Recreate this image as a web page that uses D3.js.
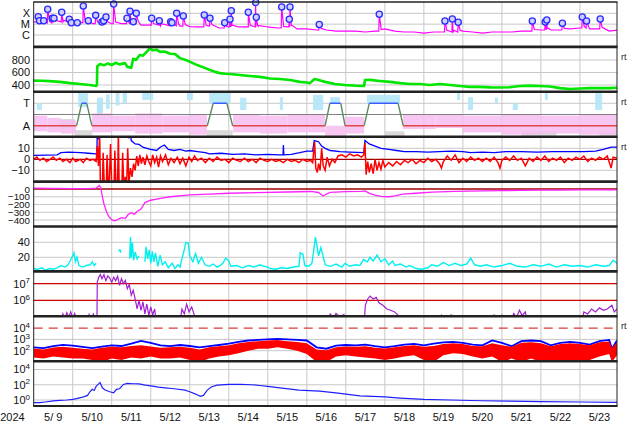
<!DOCTYPE html>
<html><head><meta charset="utf-8">
<script src="https://cdn.jsdelivr.net/npm/d3@7"></script>
<style>
body{margin:0;background:#fff}
svg{display:block;font-family:"Liberation Sans",Arial,sans-serif}
</style></head><body>
<svg id="c" width="634" height="424"></svg>
<script>
// ---------------- DATA (days since 2024-05-09 00:00 UT) ----------------
const yearLabel = "2024";
const dayLabels = ["5/ 9","5/10","5/11","5/12","5/13","5/14","5/15","5/16","5/17","5/18","5/19","5/20","5/21","5/22","5/23"];
const rtPanels = [1,2,3,7];

// X-ray background (units of 1e-6 W/m2, C=1, M=10, X=100), every 0.25 day
const xrayStep = 0.25;
const xrayBase = [16,13,16,16,11,13,11,11,11,11,13,8,8,7,7,6.5,6,5.5,6.5,4.4,5.5,5.5,5.5,6.5,5.5,4.4,5.5,3.6,3.6,2.9,2.9,2.3,2.3,2.3,1.9,2.3,3.6,2.3,1.9,1.9,1.5,1.9,1.9,1.9,2.3,1.9,1.5,1.9,1.9,1.9,2.3,2.3,2.9,2.9,2.9,3.6,4.4,3.6,3.6,2.3,2.9];
// flares [day, peak]
const flares = [[0.118,48.6],[0.149,20.8],[0.256,20.8],[0.359,234],[0.477,34.6],[0.520,34.6],[0.718,124],[0.912,28],[0.964,13.6],[1.117,13.6],[1.271,471],[1.399,20.8],[1.589,65],[1.750,15.8],[1.794,20.8],[1.853,45.6],[2.050,720],[2.391,34.6],[2.468,153],[2.553,16.8],[2.629,100],[3.024,34.6],[3.219,20.8],[3.511,16.8],[3.544,13.6],[3.665,100],[3.834,56],[4.372,70],[4.518,34.6],[4.895,13.6],[5.031,28],[5.064,174],[5.500,124],[5.689,1000],[5.705,42.8],[6.356,381],[6.551,28],[6.569,381],[7.319,9.3],[8.857,81],[10.54,19.5],[10.73,29.8],[10.88,14.8],[12.78,19.5],[13.11,15.8],[13.15,24],[13.55,12],[14.06,45.6],[14.17,19.5],[14.52,29.8]];

// solar wind speed km/s
const windSpeed = [[0,470],[0.2,468],[0.4,462],[0.67,450],[0.93,430],[1.19,415],[1.44,400],[1.6,385],[1.62,400],[1.63,700],[1.7,735],[1.8,715],[1.9,745],[2.0,720],[2.1,755],[2.2,730],[2.34,750],[2.4,690],[2.5,675],[2.55,820],[2.62,800],[2.72,880],[2.8,870],[2.9,935],[2.98,985],[3.05,955],[3.15,965],[3.24,930],[3.35,935],[3.5,900],[3.62,895],[3.75,830],[3.9,800],[4.01,770],[4.15,730],[4.27,700],[4.4,670],[4.52,640],[4.65,610],[4.77,590],[4.9,580],[5.03,575],[5.29,560],[5.54,545],[5.8,530],[6.06,505],[6.31,495],[6.57,480],[6.82,450],[7.0,440],[7.08,430],[7.15,470],[7.2,495],[7.3,480],[7.47,450],[7.72,415],[7.98,400],[8.24,390],[8.47,385],[8.49,480],[8.62,482],[8.87,465],[9.13,450],[9.39,430],[9.64,415],[9.9,415],[10.15,400],[10.41,415],[10.67,400],[10.92,385],[11.18,370],[11.44,370],[11.7,362],[11.95,360],[12.2,365],[12.46,385],[12.72,390],[12.97,385],[13.23,375],[13.49,350],[13.74,335],[14.0,345],[14.25,350],[14.51,350],[14.77,350],[14.95,355]];

// IMF sector (T=+1, A=-1)
const sector = [[0,-1],[1.10,-1],[1.23,1],[1.36,1],[1.49,-1],[4.45,-1],[4.60,1],[4.95,1],[5.10,-1],[7.47,-1],[7.59,1],[7.87,1],[7.98,-1],[8.47,-1],[8.60,1],[9.34,1],[9.47,-1],[14.95,-1]];
// scatter clouds [dayStart, dayEnd, low, high]
const awayCloud = [[0,0.35,-1.5,-0.1],[0.35,0.7,-1.6,-0.3],[0.7,1.08,-1.7,-0.5],[1.49,2.0,-1.6,0.1],[2.0,2.6,-1.5,-0.1],[2.6,3.3,-1.7,0.1],[3.3,4.0,-1.6,-0.1],[4.0,4.44,-1.8,0.0],[5.11,5.8,-1.6,0.0],[5.8,6.5,-1.7,-0.1],[6.5,7.47,-1.6,0.0],[7.47,7.98,-1.9,-1.0],[7.98,8.47,-1.7,-0.2],[9.46,10.3,-1.3,0.0],[10.3,11.0,-1.2,0.0],[11.0,12.0,-1.6,-0.1],[12.0,13.0,-1.8,0.0],[13.0,14.0,-1.7,-0.1],[14.0,14.95,-1.8,0.0]];
const towardCloud = [[0.08,0.21,0.4,1.0],[1.14,1.39,0.67,1.9],[1.62,1.78,0.13,1.5],[1.85,1.95,0.5,1.8],[2.1,2.2,0.8,2.0],[2.28,2.39,1.0,2.0],[2.78,3.06,1.3,2.0],[3.93,4.08,1.3,2.0],[4.5,5.05,1.0,1.95],[5.29,5.45,0.4,1.5],[6.31,6.39,0.4,1.55],[7.16,7.42,0.4,1.75],[7.6,7.85,1.0,1.55],[8.54,9.39,1.0,1.75],[10.85,10.93,1.3,1.9],[11.13,11.26,0.4,1.55],[11.82,11.9,1.0,1.5],[12.28,12.41,0.4,1.0],[13.1,13.18,1.3,1.9],[14.39,14.57,0.4,1.9]];
const greyCloud = [[0.68,1.05,-1.3,-0.4],[1.05,1.5,-1.95,-1.4],[1.62,1.75,0.0,1.2],[4.44,5.1,-1.95,-1.4],[9.0,9.5,-1.95,-1.5],[12.5,13.4,-1.95,-1.5],[14.5,14.95,-1.95,-1.5]];

// IMF Bt and Bz (nT)
const imfBt = [[0,3.5],[0.3,3.8],[0.6,4],[0.7,6],[0.9,6.5],[1.2,6],[1.4,5.5],[1.6,5],[1.62,5],[1.63,30],[1.66,18],[1.68,30],[2.4,30],[2.44,19],[2.47,30],[2.5,17],[2.6,14],[2.7,13.5],[2.8,11],[2.9,10],[3.0,9],[3.15,8],[3.24,11],[3.35,13],[3.45,9],[3.6,8],[3.75,9],[3.9,7.5],[4.0,8],[4.2,7],[4.4,6],[4.5,5],[4.8,5.5],[5.1,4.5],[5.4,5],[5.7,4],[6.0,4.5],[6.3,4],[6.39,4],[6.4,13],[6.41,4],[6.6,4.5],[6.82,6],[7.0,7.5],[7.15,7.5],[7.19,17],[7.3,16],[7.38,12],[7.47,10],[7.6,8],[7.85,7],[8.1,6.5],[8.46,6],[8.49,17],[8.6,14],[8.75,12],[8.9,10],[9.1,9],[9.3,8],[9.5,7],[9.8,7],[10.1,6.5],[10.4,7],[10.7,7.5],[11.0,7],[11.2,6],[11.5,6.5],[11.8,6],[12.1,7],[12.5,7],[12.9,6.5],[13.3,7],[13.7,7],[14.1,7],[14.4,7.5],[14.6,9],[14.8,11],[14.95,11]];
const imfBz = [[0,0],[0.08,2],[0.16,-1],[0.25,1],[0.33,-2],[0.42,0],[0.5,2],[0.58,-1],[0.67,1],[0.75,-2],[0.83,0],[0.93,-3],[1.0,1],[1.08,-2],[1.19,0],[1.27,-3],[1.35,1],[1.44,-1],[1.52,0],[1.6,-2],[1.63,12],[1.66,-6],[1.69,25],[1.71,-25],[1.76,-25],[1.78,6],[1.81,-25],[1.86,-25],[1.88,4],[1.91,-25],[1.94,-18],[1.97,14],[2.0,-25],[2.06,-25],[2.08,8],[2.11,-25],[2.15,-20],[2.17,25],[2.19,-25],[2.26,-25],[2.28,6],[2.31,-25],[2.35,-16],[2.38,-25],[2.41,10],[2.44,-22],[2.48,-8],[2.52,-16],[2.56,-4],[2.6,-10],[2.64,3],[2.68,-6],[2.72,4],[2.76,-4],[2.8,2],[2.85,-5],[2.9,3],[2.95,-2],[3.0,-6],[3.05,4],[3.1,-3],[3.15,2],[3.2,-7],[3.25,3],[3.3,-2],[3.38,4],[3.45,-5],[3.52,1],[3.6,-3],[3.68,2],[3.75,-4],[3.82,1],[3.9,-6],[3.98,2],[4.05,-2],[4.12,3],[4.2,-1],[4.3,1],[4.4,-3],[4.5,1],[4.6,-2],[4.7,2],[4.8,-1],[4.9,0],[5.0,-3],[5.1,1],[5.2,-1],[5.3,-2],[5.4,1],[5.5,-2],[5.6,0],[5.7,-3],[5.8,1],[5.9,-1],[6.0,-2],[6.1,0],[6.2,-2],[6.3,-1],[6.4,-3],[6.5,0],[6.6,-2],[6.7,-1],[6.8,-3],[6.9,0],[7.0,-2],[7.1,-1],[7.15,-3],[7.2,16],[7.23,-8],[7.27,-12],[7.3,-4],[7.34,-10],[7.38,10],[7.42,-6],[7.47,-10],[7.52,2],[7.58,-6],[7.65,0],[7.72,-3],[7.8,3],[7.9,4],[8.0,2],[8.1,5],[8.2,3],[8.3,4],[8.4,2],[8.46,4],[8.49,15],[8.52,-14],[8.56,-2],[8.6,-12],[8.65,-4],[8.7,-13],[8.75,0],[8.8,-10],[8.85,-3],[8.9,-9],[8.95,-1],[9.0,-7],[9.1,-3],[9.2,-6],[9.3,-2],[9.4,-5],[9.5,-1],[9.6,-3],[9.7,0],[9.8,-4],[9.9,-1],[10.0,-3],[10.1,1],[10.2,-2],[10.3,0],[10.4,-4],[10.45,-8],[10.5,-2],[10.6,3],[10.7,-1],[10.8,4],[10.9,-3],[11.0,1],[11.1,-2],[11.2,2],[11.3,-1],[11.4,1],[11.5,-2],[11.6,1],[11.7,-2],[11.8,2],[11.9,-3],[11.95,-8],[12.0,-1],[12.1,2],[12.2,-1],[12.3,3],[12.4,-1],[12.5,1],[12.6,-6],[12.7,1],[12.8,-2],[12.9,2],[13.0,-1],[13.1,3],[13.2,-2],[13.3,1],[13.4,-1],[13.5,2],[13.6,-3],[13.7,1],[13.8,-1],[13.9,2],[14.0,0],[14.1,3],[14.2,-2],[14.3,1],[14.4,-1],[14.5,2],[14.6,0],[14.7,3],[14.8,-8],[14.85,2],[14.95,1]];

// Dst (nT)
const dst = [[0,10],[0.5,8],[1.0,5],[1.4,5],[1.6,10],[1.68,45],[1.72,20],[1.76,-100],[1.8,-190],[1.87,-300],[1.93,-360],[2.0,-395],[2.08,-410],[2.15,-395],[2.25,-370],[2.35,-378],[2.42,-330],[2.5,-305],[2.58,-325],[2.65,-290],[2.75,-260],[2.85,-175],[3.0,-145],[3.25,-120],[3.5,-100],[4.0,-77],[4.5,-65],[5.0,-55],[5.7,-48],[6.5,-39],[7.1,-32],[7.3,-45],[7.42,-90],[7.5,-65],[7.6,-43],[8.0,-35],[8.4,-30],[8.49,-24],[8.62,-60],[8.75,-80],[8.9,-95],[9.1,-100],[9.26,-88],[9.45,-65],[9.8,-55],[10.2,-40],[10.8,-30],[11.5,-25],[12,-20],[12.5,-18],[13,-15],[13.5,-14],[14,-12],[14.5,-10],[14.95,-10]];

// solar wind density
const density = [[0,5],[0.1,4],[0.2,6],[0.3,3],[0.4,5],[0.5,4],[0.6,6],[0.7,9],[0.8,7],[0.88,10],[0.95,17],[1.0,22],[1.03,26],[1.07,14],[1.11,20],[1.16,9],[1.25,7],[1.35,9],[1.45,10],[1.5,14],[1.55,9],[1.6,12],[1.62,null],[2.18,28],[2.21,30],[2.24,26],[2.26,null],[2.46,18],[2.48,47],[2.5,20],[2.53,40],[2.56,16],[2.6,27],[2.65,18],[2.7,22],[2.72,null],[2.85,14],[2.88,34],[2.92,18],[2.96,30],[3.0,12],[3.04,28],[3.08,14],[3.12,26],[3.18,8],[3.24,23],[3.3,10],[3.37,14],[3.45,6],[3.55,12],[3.62,5],[3.7,10],[3.75,7],[3.8,18],[3.86,30],[3.9,40],[3.96,39],[4.0,22],[4.08,14],[4.15,25],[4.22,12],[4.3,20],[4.39,10],[4.5,8],[4.6,11],[4.7,7],[4.77,9],[4.85,12],[4.92,19],[5.0,15],[5.05,8],[5.2,9],[5.35,6],[5.5,9],[5.65,7],[5.8,10],[5.9,8],[6.0,7],[6.06,5],[6.2,4],[6.35,6],[6.5,5],[6.65,7],[6.8,8],[6.83,26],[6.9,24],[6.95,9],[7.05,8],[7.13,12],[7.18,30],[7.22,47],[7.26,36],[7.3,22],[7.36,33],[7.42,21],[7.47,10],[7.6,8],[7.75,11],[7.9,7],[7.98,12],[8.1,8],[8.25,10],[8.36,9],[8.45,17],[8.55,14],[8.62,20],[8.7,15],[8.8,23],[8.9,14],[9.0,18],[9.1,10],[9.2,15],[9.26,9],[9.4,11],[9.55,7],[9.64,9],[9.8,5],[9.95,4],[10.1,6],[10.2,10],[10.35,8],[10.5,13],[10.65,9],[10.8,12],[10.95,9],[11.1,11],[11.2,19],[11.3,10],[11.45,8],[11.6,10],[11.8,7],[12.0,9],[12.2,12],[12.4,8],[12.6,7],[12.8,10],[13.0,8],[13.2,11],[13.4,7],[13.6,10],[13.8,8],[14.0,9],[14.2,7],[14.4,10],[14.6,8],[14.75,9],[14.85,16],[14.95,12]];

// proton flux (log panel); 5e4 = below panel
const protonFlux = [[0,5e4],[0.72,5e4],[0.75,1.5e5],[0.8,8e4],[0.85,1.8e5],[0.9,1e5],[0.95,2e5],[1.0,8e4],[1.05,1.6e5],[1.12,5e4],[1.38,5e4],[1.42,1.4e5],[1.48,9e4],[1.53,1.5e5],[1.6,5e4],[1.62,5e4],[1.63,1.3e7],[1.67,2.5e7],[1.71,3.5e7],[1.75,2e7],[1.8,3.5e7],[1.85,1.5e7],[1.9,3e7],[1.95,2.2e7],[2.0,1.2e7],[2.05,2.5e7],[2.1,1.5e7],[2.15,2.8e7],[2.2,8e6],[2.25,2e7],[2.3,1e7],[2.35,1.6e7],[2.4,5e6],[2.45,9e6],[2.5,2e6],[2.55,4e6],[2.6,1.2e6],[2.65,3e5],[2.7,1e6],[2.75,2.5e5],[2.8,8e5],[2.85,1.5e5],[2.9,6e5],[2.95,1.2e5],[3.0,4e5],[3.05,1.3e5],[3.1,3e5],[3.14,5e4],[3.75,5e4],[3.8,3e5],[3.86,1.5e5],[3.92,6e5],[3.98,2e5],[4.05,4e5],[4.12,1.2e5],[4.16,5e4],[7.55,5e4],[7.6,1.5e5],[7.68,9e4],[7.75,1.6e5],[7.85,1e5],[7.95,1.4e5],[8.0,5e4],[8.47,5e4],[8.5,5e5],[8.56,1.2e6],[8.62,1.8e6],[8.7,1.2e6],[8.78,1.5e6],[8.85,7e5],[8.95,5e5],[9.05,3e5],[9.15,2.5e5],[9.25,2e5],[9.35,1.2e5],[9.45,5e4],[10.4,5e4],[10.45,1.3e5],[10.55,8e4],[10.7,1.3e5],[10.85,9e4],[11.0,1.2e5],[11.15,5e4],[11.75,5e4],[11.8,1.3e5],[11.9,9e4],[12.0,1.3e5],[12.12,5e4],[12.25,5e4],[12.3,1.6e5],[12.38,1e5],[12.45,2.5e5],[12.52,1.2e5],[12.6,2e5],[12.65,5e4],[12.88,5e4],[12.92,1.3e5],[12.97,5e4],[14.05,5e4],[14.1,2e5],[14.2,1.5e5],[14.3,3e5],[14.4,2e5],[14.5,3.5e5],[14.6,2.5e5],[14.7,3e5],[14.82,5e5],[14.88,2e5],[14.95,3e5]];

// panel 8: blue line and red band [day, low, high]
const fluxBlue = [[0,200],[0.25,170],[0.5,250],[0.75,330],[1.0,280],[1.25,220],[1.5,170],[1.75,230],[2.0,300],[2.25,260],[2.5,420],[2.75,750],[3.0,500],[3.25,300],[3.5,250],[3.75,320],[4.0,260],[4.25,200],[4.5,250],[4.75,320],[5.0,420],[5.25,600],[5.5,800],[5.75,900],[6.0,1000],[6.25,1100],[6.5,1000],[6.75,900],[7.0,800],[7.25,200],[7.5,150],[7.75,280],[8.0,320],[8.25,300],[8.5,350],[8.75,250],[9.0,200],[9.25,250],[9.5,350],[9.75,400],[10.0,300],[10.25,420],[10.5,550],[10.75,600],[11.0,500],[11.25,350],[11.5,300],[11.75,800],[12.0,500],[12.25,250],[12.5,700],[12.75,800],[13.0,700],[13.25,300],[13.5,500],[13.75,600],[14.0,500],[14.25,350],[14.5,700],[14.75,900],[14.82,150],[14.95,800]];
const fluxRed = [[0,25,160],[0.25,20,130],[0.5,30,190],[0.75,25,220],[1.0,20,180],[1.25,20,150],[1.5,15,130],[1.75,10,180],[2.0,20,220],[2.25,15,200],[2.5,25,260],[2.75,20,300],[3.0,30,240],[3.25,20,180],[3.5,20,200],[3.75,25,220],[4.0,15,180],[4.25,10,130],[4.5,20,200],[4.75,30,250],[5.0,40,300],[5.25,60,450],[5.5,100,600],[5.75,150,700],[6.0,150,800],[6.25,200,900],[6.5,150,700],[6.75,100,600],[7.0,50,450],[7.25,10,130],[7.5,10,110],[7.75,30,200],[8.0,40,230],[8.25,30,220],[8.5,25,250],[8.75,20,180],[9.0,15,160],[9.25,20,200],[9.5,30,260],[9.75,40,300],[10.0,15,220],[10.25,10,260],[10.5,40,400],[10.75,60,450],[11.0,50,400],[11.25,30,260],[11.5,20,250],[11.75,30,450],[12.0,10,300],[12.25,20,220],[12.5,10,500],[12.75,20,550],[13.0,10,450],[13.25,10,250],[13.5,10,400],[13.75,10,450],[14.0,10,400],[14.25,15,300],[14.5,30,550],[14.75,50,650],[14.82,10,180],[14.95,40,550]];

// panel 9 blue
const lowFlux = [[0,0.45],[0.15,0.45],[0.3,0.55],[0.5,0.75],[0.67,0.9],[0.85,1.0],[1.0,1.2],[1.1,1.5],[1.2,2],[1.3,2.8],[1.38,4],[1.44,12],[1.5,25],[1.55,18],[1.6,60],[1.7,200],[1.76,40],[1.83,20],[1.95,12],[2.05,9],[2.12,25],[2.2,30],[2.3,110],[2.4,150],[2.55,135],[2.7,130],[2.86,90],[3.0,70],[3.2,50],[3.37,40],[3.6,30],[3.88,20],[4.0,12],[4.15,6],[4.27,3],[4.35,4],[4.45,20],[4.55,50],[4.7,90],[5.0,110],[5.3,110],[5.6,100],[5.8,80],[6.0,60],[6.31,38],[6.8,20],[7.33,15],[7.8,8],[8.36,3.4],[9.0,2.5],[9.39,1.8],[10.0,1.2],[10.67,1],[11.5,0.8],[12.2,0.7],[13,0.6],[14,0.55],[14.95,0.5]];

// ---------------- DRAWING ----------------
const svg = d3.select("#c");
const defs = svg.append("defs");
const t0 = Date.UTC(2024,4,9), DAY = 864e5;
const L = 33.7, R = 617, TOP0 = 2, PH = 44.9;
const x = d3.scaleUtc().domain([new Date(t0), new Date(t0 + 14.95*DAY)]).range([L, R]);
const X = d => x(new Date(t0 + d*DAY));
const pTop = i => TOP0 + i*PH;

const ys = [
  d3.scaleLog().domain([1,100]).range([35,13.3]),
  d3.scaleLinear().domain([400,800]).range([85,60]),
  d3.scaleLinear().domain([-1,1]).range([125.7,103.3]),
  d3.scaleLinear().domain([-10,10]).range([170.3,148.3]),
  d3.scaleLinear().domain([-400,0]).range([220,189]),
  d3.scaleLinear().domain([0,40]).range([272.3,242.3]),
  d3.scaleLog().domain([1e6,1e7]).range([300.3,283.7]),
  d3.scaleLog().domain([1e2,1e4]).range([350.7,328.1]),
  d3.scaleLog().domain([1,1e4]).range([400,369.5])
];
const grid = [[1,10,100],[400,600,800],[1],[-10,10],[-100,-200,-300,-400],[20,40],[],[1e2,1e3],[1,1e2,1e4]];
const ticks = [
  [[100,"X"],[10,"M"],[1,"C"]],
  [[800,"800"],[600,"600"],[400,"400"]],
  [[1,"T"],[-1,"A"]],
  [[10,"10"],[0,"0"],[-10,"\u221210"]],
  [[0,"0"],[-100,"\u2212100"],[-200,"\u2212200"],[-300,"\u2212300"],[-400,"\u2212400"]],
  [[40,"40"],[20,"20"]],
  [[1e7,"10","7"],[1e6,"10","6"]],
  [[1e4,"10","4"],[1e3,"10","3"],[1e2,"10","2"]],
  [[1e4,"10","4"],[1e2,"10","2"],[1,"10","0"]]
];
const labelSize = [11,11,11,11,9.8,11,11,11,11];

// panels and clips
const G = [];
for (let i=0;i<9;i++){
  defs.append("clipPath").attr("id","cp"+i).append("rect")
    .attr("x",L).attr("y",pTop(i)).attr("width",R-L).attr("height",PH);
  G.push(svg.append("g").attr("clip-path","url(#cp"+i+")"));
}

// vertical day gridlines
svg.insert("g",":first-child").selectAll("line").data(d3.range(1,15)).join("line")
  .attr("x1",d=>X(d)).attr("x2",d=>X(d)).attr("y1",TOP0).attr("y2",pTop(9))
  .attr("stroke","#c8c8c8").attr("stroke-width",1);
// horizontal gridlines
grid.forEach((vals,i)=>{
  G[i].selectAll("line.g").data(vals).join("line").attr("class","g")
    .attr("x1",L).attr("x2",R).attr("y1",v=>ys[i](v)).attr("y2",v=>ys[i](v))
    .attr("stroke","#c8c8c8").attr("stroke-width",1);
});
const hline = (i,v,col,w,dash)=>G[i].append("line").attr("x1",L).attr("x2",R)
  .attr("y1",ys[i](v)).attr("y2",ys[i](v)).attr("stroke",col).attr("stroke-width",w)
  .attr("stroke-dasharray",dash||null);
hline(3,0,"#a00000",1.3);
hline(4,0,"#a00000",1.3);
hline(6,1e7,"#cc0000",1.2);
hline(6,1e6,"#cc0000",1.2);
hline(7,1e4,"#e03a3a",1.4,"9,6");

const line = (i)=>d3.line().defined(d=>d[1]!=null).x(d=>X(d[0])).y(d=>ys[i](d[1]));

// Panel 1: X-ray
const xrayPts = xrayBase.map((v,k)=>[k*xrayStep, v]);
flares.forEach(([d,p])=>{
  const b = xrayBase[Math.floor(d/xrayStep)];
  xrayPts.push([d-0.012,b],[d,p],[d+0.05,b*1.4]);
});
xrayPts.sort((a,b)=>a[0]-b[0]);
G[0].append("path").datum(xrayPts).attr("d",line(0))
  .attr("fill","none").attr("stroke","#ff00ff").attr("stroke-width",1.2);
svg.append("g").selectAll("circle").data(flares).join("circle")
  .attr("cx",d=>X(d[0])).attr("cy",d=>ys[0](d[1])).attr("r",3.1)
  .attr("fill","#cfd0ff").attr("stroke","#2a2aff").attr("stroke-width",1.3);

// Panel 2: wind speed
G[1].append("path").datum(windSpeed).attr("d",line(1))
  .attr("fill","none").attr("stroke","#00e600").attr("stroke-width",2.6).attr("stroke-linejoin","round");

// Panel 3: sector
const rectCloud = (data,col,op)=>G[2].append("g").attr("opacity",op).selectAll("rect").data(data).join("rect")
  .attr("x",d=>X(d[0])).attr("width",d=>X(d[1])-X(d[0]))
  .attr("y",d=>ys[2](d[3])).attr("height",d=>ys[2](d[2])-ys[2](d[3])).attr("fill",col);
rectCloud(greyCloud,"#d6d6d6",0.9);
rectCloud(awayCloud,"#f7bdf0",0.85);
rectCloud(towardCloud,"#b2e6f8",0.9);
hline(2,0,"#808080",1.2);
for (let k=0;k<sector.length-1;k++){
  const a=sector[k], b=sector[k+1];
  const col = (a[1]>0&&b[1]>0)?"#3a5cff":(a[1]<0&&b[1]<0)?"#e04848":"#5b8a5b";
  G[2].append("line").attr("x1",X(a[0])).attr("x2",X(b[0]))
    .attr("y1",ys[2](a[1])).attr("y2",ys[2](b[1])).attr("stroke",col).attr("stroke-width",1.4);
}

// Panel 4: IMF
G[3].append("path").datum(imfBt).attr("d",line(3)).attr("fill","none").attr("stroke","#0000ff").attr("stroke-width",1.3);
G[3].append("path").datum(imfBz).attr("d",line(3)).attr("fill","none").attr("stroke","#ff0000").attr("stroke-width",1.5);

// Panel 5: Dst
G[4].append("path").datum(dst).attr("d",line(4)).attr("fill","none").attr("stroke","#ff22ff").attr("stroke-width",1.3);

// Panel 6: density
G[5].append("path").datum(density).attr("d",line(5)).attr("fill","none").attr("stroke","#00f0f0").attr("stroke-width",1.4);

// Panel 7: proton
G[6].append("path").datum(protonFlux).attr("d",line(6)).attr("fill","none").attr("stroke","#a020d0").attr("stroke-width",1.2);

// Panel 8
G[7].append("path").datum(fluxBlue).attr("d",line(7)).attr("fill","none").attr("stroke","#0000ff").attr("stroke-width",1.8);
G[7].append("path").datum(fluxRed)
  .attr("d",d3.area().x(d=>X(d[0])).y0(d=>ys[7](d[1])).y1(d=>ys[7](d[2])))
  .attr("fill","#ff0000");

// Panel 9
G[8].append("path").datum(lowFlux).attr("d",line(8)).attr("fill","none").attr("stroke","#2020ff").attr("stroke-width",1.2);

// frames and separators
const fr = svg.append("g");
for (let i=1;i<9;i++) fr.append("line").attr("x1",L-0.5).attr("x2",R+0.5).attr("y1",pTop(i)).attr("y2",pTop(i)).attr("stroke","#222").attr("stroke-width",2.6);
fr.append("line").attr("x1",L-0.5).attr("x2",R+0.5).attr("y1",TOP0).attr("y2",TOP0).attr("stroke","#222").attr("stroke-width",1.5);
fr.append("line").attr("x1",L-0.5).attr("x2",R+0.5).attr("y1",pTop(9)).attr("y2",pTop(9)).attr("stroke","#222").attr("stroke-width",2);
fr.append("line").attr("x1",L).attr("x2",L).attr("y1",TOP0).attr("y2",pTop(9)).attr("stroke","#222").attr("stroke-width",1);
fr.append("line").attr("x1",R).attr("x2",R).attr("y1",TOP0).attr("y2",pTop(9)).attr("stroke","#222").attr("stroke-width",1);

// left labels
const lab = svg.append("g").attr("fill","#111").attr("text-anchor","end");
ticks.forEach((tk,i)=>{
  tk.forEach(t=>{
    const tx = lab.append("text").attr("x",30).attr("y",ys[i](t[0])).attr("dy","0.36em").attr("font-size",labelSize[i]);
    tx.append("tspan").text(t[1]);
    if (t[2]!==undefined) tx.append("tspan").attr("font-size",8).attr("dy","-0.55em").text(t[2]);
  });
});
// rt labels
svg.append("g").attr("font-size",9).attr("fill","#222").selectAll("text").data(rtPanels).join("text")
  .attr("x",621).attr("y",i=>pTop(i)+10).attr("dy","0.35em").text("rt");
// bottom labels
const bl = svg.append("g").attr("font-size",11).attr("fill","#111").attr("text-anchor","middle");
bl.append("text").attr("x",12.5).attr("y",417).attr("dy","0.35em").text(yearLabel);
bl.selectAll("text.d").data(dayLabels).join("text").attr("class","d")
  .attr("x",(d,k)=>X(k+0.5)).attr("y",417).attr("dy","0.35em").attr("xml:space","preserve")
  .style("white-space","pre").text(d=>d);
</script>
</body></html>
